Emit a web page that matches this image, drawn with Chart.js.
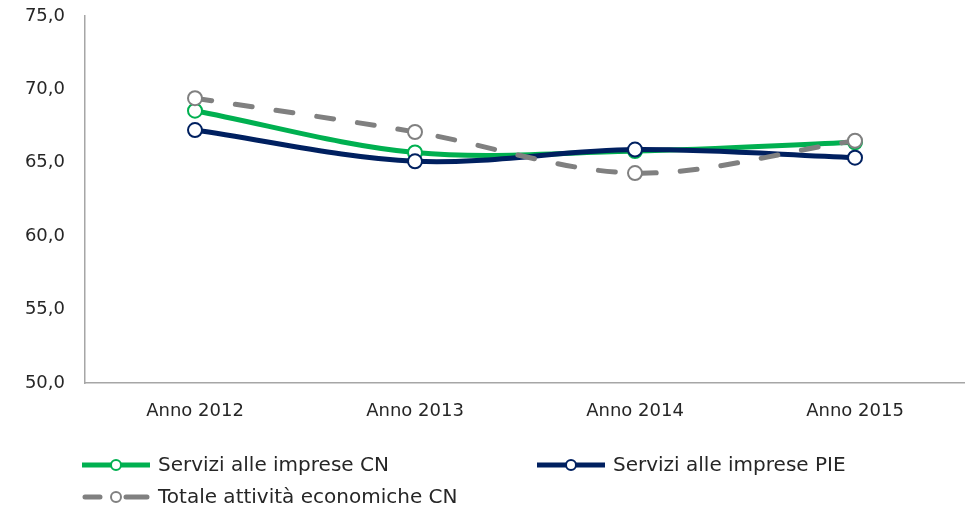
<!DOCTYPE html>
<html>
<head>
<meta charset="utf-8">
<script src="https://cdn.jsdelivr.net/npm/chart.js@4/dist/chart.umd.min.js"></script>
<style>
  html, body { margin: 0; padding: 0; background: #fff; }
  #wrap { width: 965px; height: 512px; position: relative; }
</style>
</head>
<body>
<div id="wrap"><canvas id="c" width="965" height="512"></canvas></div>
<script>
const categories = ['Anno 2012', 'Anno 2013', 'Anno 2014', 'Anno 2015'];
const serviziImpreseCN = [68.55, 65.7, 65.8, 66.4];
const serviziImpresePIE = [67.23, 65.1, 65.9, 65.35];
const totaleAttivitaCN = [69.4, 67.1, 64.3, 66.5];
const yTicks = [50, 55, 60, 65, 70, 75];
const seriesNames = ['Servizi alle imprese CN', 'Servizi alle imprese PIE', 'Totale attività economiche CN'];

const FONT = "'DejaVu Sans', Verdana, sans-serif";
const TEXT = '#262626';

const legendPlugin = {
  id: 'customLegend',
  afterDraw(chart) {
    const ctx = chart.ctx;
    const items = [
      { ds: 0, x: 82, y: 465 },
      { ds: 1, x: 537, y: 465 },
      { ds: 2, x: 82, y: 497 }
    ];
    ctx.save();
    items.forEach(it => {
      const d = chart.data.datasets[it.ds];
      ctx.beginPath();
      ctx.strokeStyle = d.borderColor;
      ctx.lineWidth = 5;
      ctx.lineCap = d.borderDash ? 'round' : 'butt';
      if (d.borderDash) {
        ctx.setLineDash([]);
        ctx.moveTo(it.x + 3, it.y); ctx.lineTo(it.x + 18, it.y);
        ctx.moveTo(it.x + 44, it.y); ctx.lineTo(it.x + 65, it.y);
      } else {
        ctx.moveTo(it.x, it.y); ctx.lineTo(it.x + 68, it.y);
      }
      ctx.stroke();
      ctx.beginPath();
      ctx.setLineDash([]);
      ctx.fillStyle = '#fff';
      ctx.lineWidth = 2;
      ctx.arc(it.x + 34, it.y, 5, 0, Math.PI * 2);
      ctx.fill();
      ctx.stroke();
      ctx.fillStyle = TEXT;
      ctx.font = '20px ' + FONT;
      ctx.textBaseline = 'middle';
      ctx.textAlign = 'left';
      ctx.fillText(d.label, it.x + 76, it.y + 1);
    });
    ctx.restore();
  }
};

new Chart(document.getElementById('c'), {
  type: 'line',
  data: {
    labels: categories,
    datasets: [
      {
        label: seriesNames[0],
        data: serviziImpreseCN,
        borderColor: '#00B050',
        backgroundColor: '#ffffff',
        pointBackgroundColor: '#ffffff',
        pointBorderColor: '#00B050',
        borderWidth: 5,
        pointRadius: 7,
        pointBorderWidth: 2,
        tension: 0.33,
        order: 3
      },
      {
        label: seriesNames[1],
        data: serviziImpresePIE,
        borderColor: '#002060',
        backgroundColor: '#ffffff',
        pointBackgroundColor: '#ffffff',
        pointBorderColor: '#002060',
        borderWidth: 5,
        pointRadius: 7,
        pointBorderWidth: 2,
        tension: 0.33,
        order: 2
      },
      {
        label: seriesNames[2],
        data: totaleAttivitaCN,
        borderColor: '#808080',
        backgroundColor: '#ffffff',
        pointBackgroundColor: '#ffffff',
        pointBorderColor: '#808080',
        borderWidth: 5,
        borderDash: [17, 24],
        borderCapStyle: 'round',
        pointRadius: 7,
        pointBorderWidth: 2,
        tension: 0.33,
        order: 1
      }
    ]
  },
  options: {
    responsive: false,
    animation: false,
    layout: { autoPadding: false, padding: { top: 16, left: 0, right: -3, bottom: 0 } },
    plugins: {
      legend: { display: false },
      tooltip: { enabled: false }
    },
    scales: {
      x: {
        offset: true,
        grid: { display: false, drawTicks: false, offset: true },
        border: { display: true, color: '#a6a6a6', width: 1.5 },
        ticks: { color: TEXT, font: { family: FONT, size: 18 }, padding: 18, maxRotation: 0 },
        afterFit: s => { s.height = 129; s.paddingLeft = 0; s.paddingRight = 0; }
      },
      y: {
        min: 50,
        max: 75,
        afterBuildTicks: s => { s.ticks = yTicks.map(v => ({ value: v })); },
        grid: { display: false, drawTicks: false },
        border: { display: true, color: '#a6a6a6', width: 1.5 },
        ticks: {
          color: TEXT,
          font: { family: FONT, size: 18 },
          padding: 20,
          callback: v => Number(v).toFixed(1).replace('.', ',')
        },
        afterFit: s => { s.width = 85; s.paddingTop = 0; s.paddingBottom = 0; }
      }
    }
  },
  plugins: [legendPlugin]
});
</script>
</body>
</html>
